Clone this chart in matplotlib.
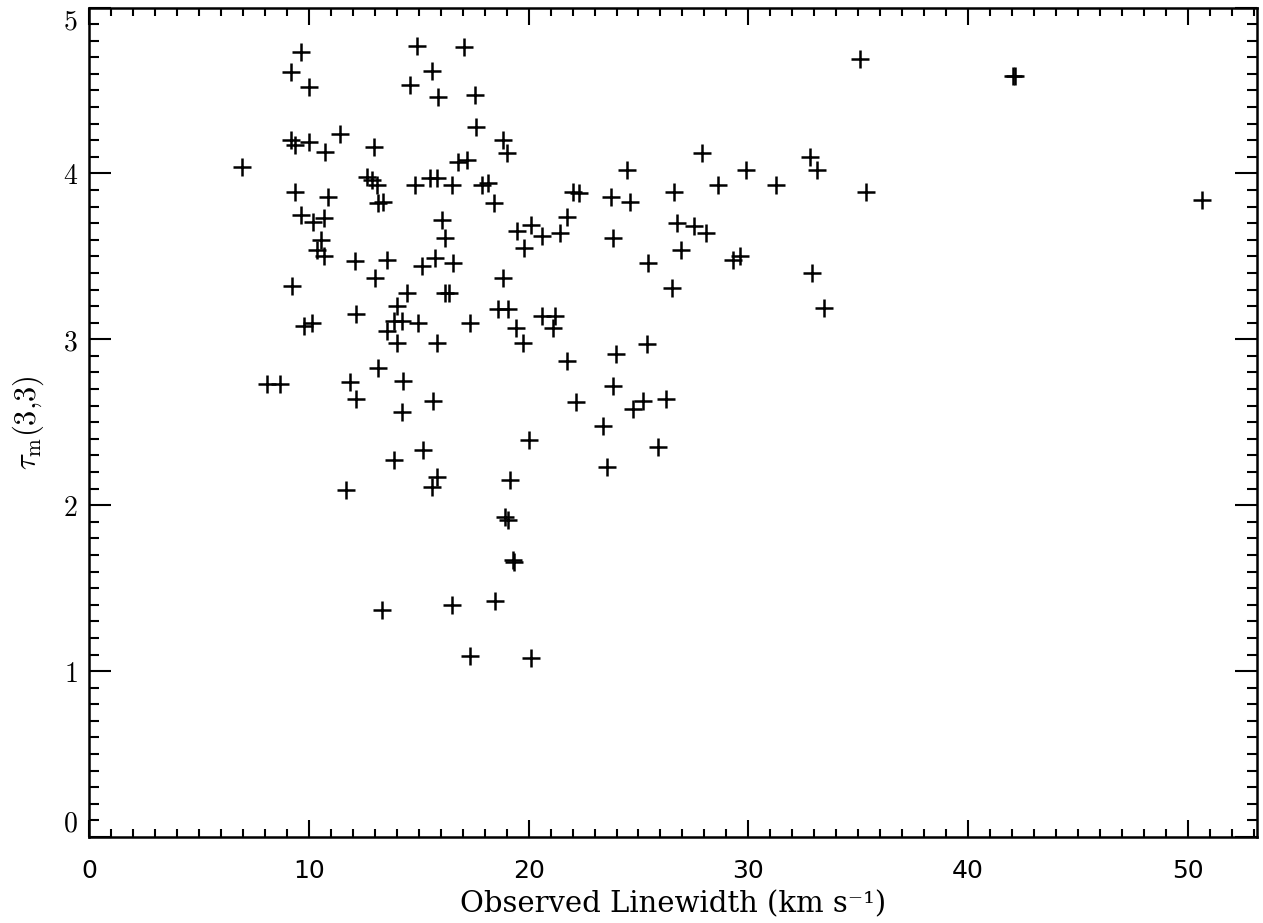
import matplotlib
matplotlib.use("Agg")
import matplotlib.pyplot as plt
from matplotlib.ticker import MultipleLocator, FixedLocator

plt.rcParams['mathtext.fontset'] = 'cm'

# Observed linewidth (km/s) and NH3 (3,3) main-line optical depth
linewidth = [
    9.63, 9.19, 10.02, 14.94, 15.62, 14.62, 15.86, 9.19, 9.37, 10.02, 10.72, 11.42, 12.98, 6.97,
    12.63, 12.86, 13.09, 14.83, 15.51, 15.82, 16.52, 9.39, 10.89, 13.16, 13.39, 9.65, 10.20, 10.69,
    16.06, 16.20, 10.54, 10.39, 10.71, 12.10, 13.54, 15.14, 15.74, 16.56, 13.03, 9.22, 14.45, 16.20,
    16.39, 14.00, 10.13, 9.78, 12.15, 13.88, 14.23, 14.97, 13.54, 14.00, 15.82, 13.13, 8.11, 8.69,
    11.87, 14.27, 12.15, 15.66, 14.23, 15.18, 13.88, 15.82, 15.59, 11.69, 13.32, 16.50,
    17.07, 17.56, 17.61, 18.82, 19.00, 16.80, 17.18, 17.87, 18.14, 18.44, 22.03, 22.31, 23.74, 24.61,
    24.49, 19.46, 20.11, 20.60, 21.43, 21.73, 19.80, 23.85, 25.45, 18.85, 18.62, 19.08, 17.33, 20.63,
    21.20, 19.43, 21.12, 19.76, 21.73, 23.98, 25.40, 23.83, 22.16, 24.76, 25.22, 26.25, 23.40, 25.90,
    20.03, 23.55, 19.15, 18.93, 19.08, 19.28, 19.34, 18.47, 17.33, 20.11,
    27.90, 29.89, 28.63, 31.26, 32.80, 33.11, 35.34, 26.62, 26.74, 27.54, 28.07, 26.93, 29.29, 29.62,
    26.52, 32.89, 33.44, 35.08, 42.06, 42.11, 50.62,
]
tau33 = [
    4.73, 4.61, 4.52, 4.77, 4.62, 4.53, 4.46, 4.20, 4.17, 4.19, 4.13, 4.24, 4.16, 4.04,
    3.98, 3.96, 3.93, 3.93, 3.97, 3.97, 3.93, 3.89, 3.86, 3.82, 3.83, 3.75, 3.71, 3.73,
    3.72, 3.61, 3.60, 3.54, 3.50, 3.47, 3.48, 3.44, 3.49, 3.46, 3.37, 3.32, 3.28, 3.28,
    3.28, 3.20, 3.10, 3.08, 3.15, 3.11, 3.11, 3.10, 3.05, 2.98, 2.98, 2.83, 2.73, 2.73,
    2.74, 2.75, 2.64, 2.63, 2.56, 2.33, 2.27, 2.17, 2.11, 2.09, 1.37, 1.40,
    4.76, 4.47, 4.28, 4.20, 4.12, 4.07, 4.08, 3.93, 3.94, 3.82, 3.89, 3.88, 3.86, 3.83,
    4.02, 3.65, 3.69, 3.62, 3.64, 3.74, 3.55, 3.61, 3.46, 3.37, 3.18, 3.18, 3.10, 3.14,
    3.14, 3.07, 3.07, 2.98, 2.87, 2.91, 2.97, 2.72, 2.62, 2.58, 2.63, 2.64, 2.48, 2.35,
    2.39, 2.23, 2.15, 1.93, 1.91, 1.67, 1.66, 1.42, 1.09, 1.08,
    4.12, 4.02, 3.93, 3.93, 4.10, 4.02, 3.89, 3.89, 3.70, 3.68, 3.64, 3.54, 3.48, 3.50,
    3.31, 3.40, 3.19, 4.69, 4.59, 4.59, 3.84,
]

x_ticks = [0, 10, 20, 30, 40, 50]
x_tick_labels = ["0", "10", "20", "30", "40", "50"]
y_ticks = [0, 1, 2, 3, 4, 5]
y_tick_labels = [r"$0$", r"$1$", r"$2$", r"$3$", r"$4$", r"$5$"]

fig = plt.figure(figsize=(12.63, 9.23), dpi=100)
ax = fig.add_axes([89 / 1263, 86 / 923, 1168 / 1263, 829.5 / 923])

ax.plot(linewidth, tau33, linestyle="none", marker="+", markersize=12.5,
        markeredgewidth=1.8, color="black", clip_on=False)

ax.set_xlim(0, 53.14)
ax.set_ylim(0, 5)

ax.xaxis.set_major_locator(FixedLocator(x_ticks))
ax.xaxis.set_minor_locator(MultipleLocator(1))
ax.yaxis.set_major_locator(FixedLocator(y_ticks))
ax.yaxis.set_minor_locator(MultipleLocator(0.1))

ax.set_xticklabels(x_tick_labels, fontfamily="DejaVu Sans", fontsize=18)
ax.set_yticklabels(y_tick_labels, fontsize=20)
ylabels = ax.get_yticklabels()
ylabels[0].set_va("bottom")
ylabels[-1].set_va("top")

for s in ax.spines.values():
    s.set_linewidth(1.8)

ax.tick_params(axis="both", which="both", direction="in", top=True, right=True, width=1.5)
ax.tick_params(axis="x", which="major", length=12.5, pad=16)
ax.tick_params(axis="x", which="minor", length=5.8)
ax.tick_params(axis="y", which="major", length=15.8, pad=8)
ax.tick_params(axis="y", which="minor", length=7.2)

ax.set_xlabel("Observed Linewidth (km s\u207b\u00b9)", fontfamily="DejaVu Serif",
              fontsize=21, labelpad=5)
ax.set_ylabel(r"$\tau_{\rm m}(3{,}3)$", fontsize=22, labelpad=12)

fig.savefig("out.png", dpi=100, facecolor="white")
